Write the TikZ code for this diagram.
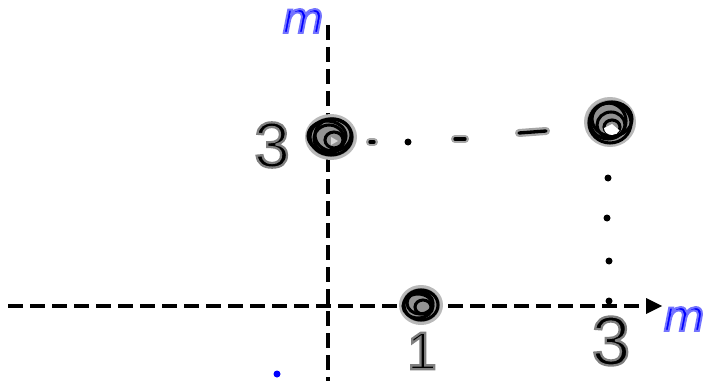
\documentclass[tikz,border=0pt]{standalone}
\usepackage{fontspec}
\setmainfont{DejaVu Sans}
\newfontfamily\numfont{Liberation Sans}
\usetikzlibrary{arrows.meta,calc}
\newcommand\grayhalo[1]{\special{pdf:literal 2 Tr 1.7 w 0.5 G}#1\special{pdf:literal 0 Tr}}
\newcommand\bluehalo[1]{\special{pdf:literal 2 Tr 1.5 w 0.45 0.45 1 RG}#1\special{pdf:literal 0 Tr}}
\tikzset{
  axis/.style={line width=3.4pt, dash pattern=on 11.5pt off 5pt, line cap=butt},
  graydash/.style={line width=6pt, draw=gray!70, line cap=round},
  blackdash/.style={line width=2.5pt, draw=black, line cap=round},
  scrib/.style={draw=black, line width=2.3pt},
  mlabel/.style={text=blue, font=\fontsize{32}{32}\selectfont\itshape, inner sep=0pt},
  numlabel/.style={text=black, font=\fontsize{48}{48}\selectfont\numfont, inner sep=0pt},
}
\begin{document}
\begin{tikzpicture}[x=0.75pt, y=-0.75pt]
\useasboundingbox (0,0) rectangle (705,381);
% axes
\coordinate (xs) at (8,306);
\coordinate (xe) at (662,306);
\coordinate (ys) at (328,25);
\coordinate (ye) at (328,381);
\draw[axis] (xs) -- (648,306);
\draw[line width=3.4pt] (646,306) -- (650,306);
\fill (662,306) -- (646,298) -- (646,314) -- cycle;
\draw[axis] (ys) -- (ye);
% blobs
\begin{scope}
  \fill[gray!55] (331,137) ellipse (26 and 23);
  \fill[gray!85] (331,137) ellipse (23 and 20);
  \draw[scrib] (331,137) ellipse (21 and 18);
  \draw[scrib] (329,139) ellipse (15 and 14);
  \draw[scrib] (333,135) ellipse (18 and 16);
  \draw[scrib] (327,136) ellipse (19 and 15);
  \draw[scrib] (334,140) ellipse (9 and 8);
  \fill[gray!30] (338,141) -- (331,137) -- (331,145) -- cycle;
  \coordinate (b1) at (331,137);
\end{scope}
\begin{scope}
  \fill[gray!55] (610,122) ellipse (26 and 25);
  \fill[gray!85] (610,122) ellipse (23 and 22);
  \draw[scrib] (610,123) ellipse (21 and 20);
  \draw[scrib] (608,121) ellipse (18 and 18);
  \draw[scrib] (612,119) ellipse (20 and 17);
  \draw[scrib] (611,125) ellipse (14 and 13);
  \draw[scrib] (612,127) ellipse (8 and 7);
  \fill[white] (604,128) arc (180:20:8 and 7) -- (612,124) -- cycle;
  \coordinate (b2) at (610,122);
\end{scope}
\begin{scope}
  \fill[gray!55] (421,305) ellipse (22 and 20);
  \fill[gray!85] (421,305) ellipse (19 and 17);
  \draw[scrib] (421,305) ellipse (17 and 15);
  \draw[scrib] (420,303) ellipse (13 and 11);
  \draw[scrib] (418,306) ellipse (15 and 12);
  \draw[scrib] (423,307) ellipse (8 and 7);
  \coordinate (b3) at (421,305);
\end{scope}
% dotted/dashed connector between blobs
\draw[graydash] (370,142) -- (374,142);
\draw[blackdash] (370,142) -- (374,142);
\fill (408,142) circle (3.5);
\draw[graydash] (455,139) -- (465,139);
\draw[blackdash] (455,139) -- (465,139);
\draw[graydash] (519,133) -- (546,131);
\draw[blackdash] (519,133) -- (546,131);
\fill (608,178) circle (3.5);
\fill (607,218) circle (3.5);
\fill (609,261) circle (3.5);
\fill (609,301) circle (3.5);
% labels
\node[numlabel] (n3a) at (272,145) {\grayhalo{3}};
\node[numlabel, font=\fontsize{40}{40}\selectfont\numfont] (n1) at (422,351) {\grayhalo{1}};
\node[numlabel, font=\fontsize{52}{52}\selectfont\numfont] (n3b) at (611,341) {\grayhalo{3}};
\node[mlabel] (my) at (303,21) {\bluehalo{m}};
\node[mlabel] (mx) at (684,319) {\bluehalo{m}};
\fill[blue] (277,374) circle (3.5);
\end{tikzpicture}
\end{document}
